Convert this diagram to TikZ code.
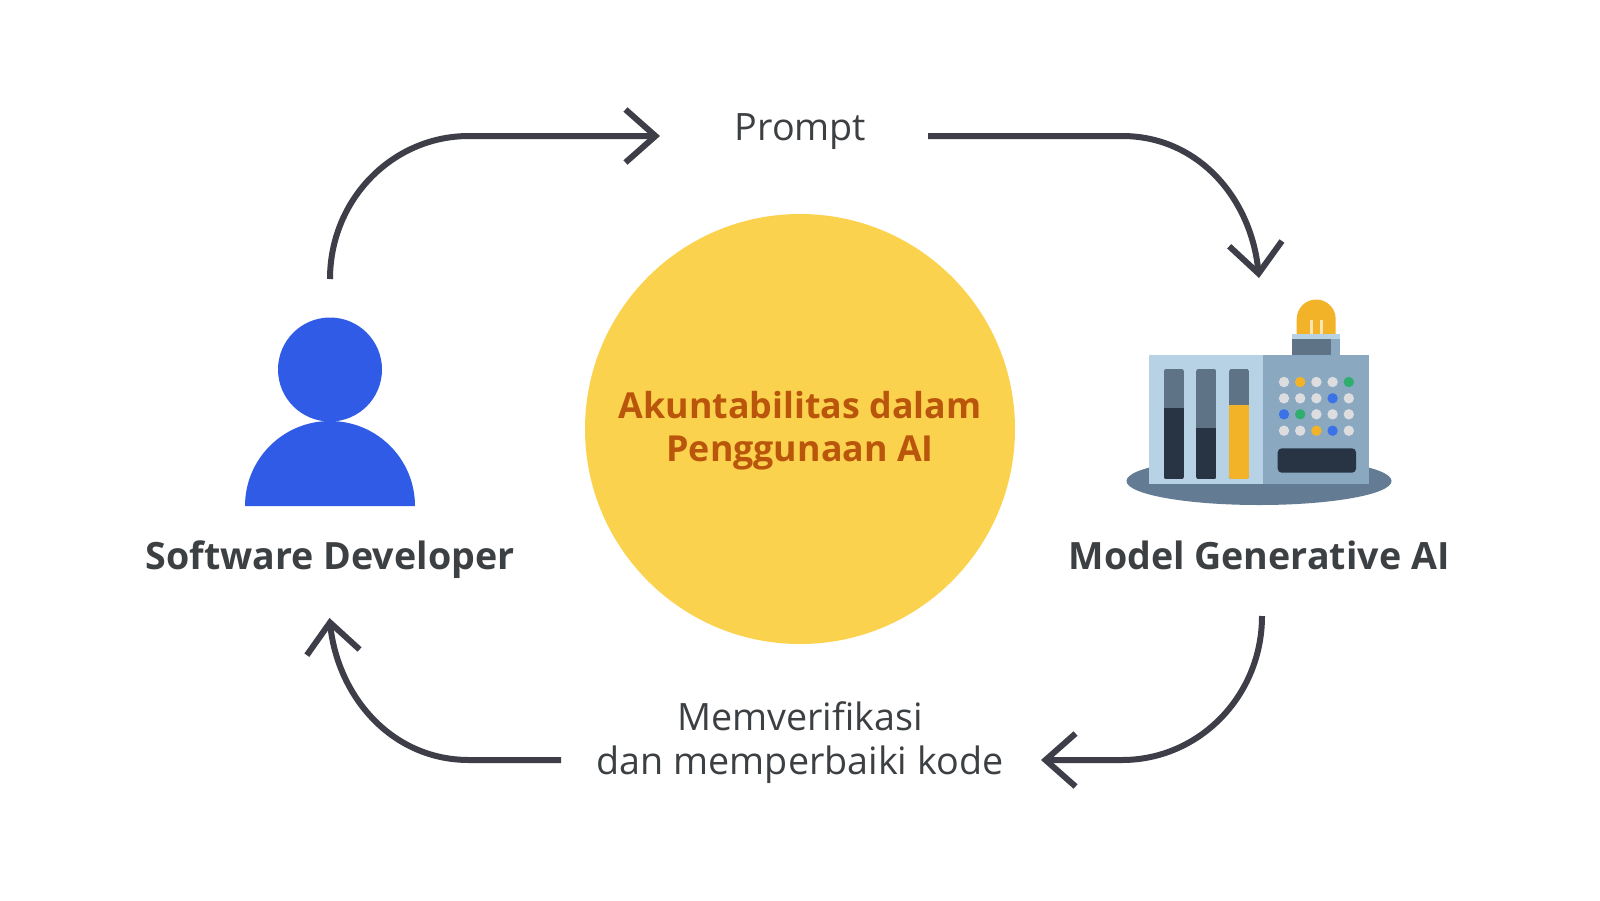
\documentclass[tikz,border=0pt]{standalone}
\usepackage{fontspec}
\setmainfont{Open Sans}
\usetikzlibrary{arrows.meta}
\definecolor{ink}{HTML}{3C4043}
\definecolor{wire}{HTML}{3D3E47}
\definecolor{sun}{HTML}{FBD24E}
\definecolor{rust}{HTML}{B9560B}
\definecolor{royal}{HTML}{2F5BE7}
\definecolor{disk}{HTML}{637C94}
\definecolor{pale}{HTML}{B8D2E5}
\definecolor{steel}{HTML}{8AA9C1}
\definecolor{slate}{HTML}{5E7386}
\definecolor{night}{HTML}{283444}
\definecolor{amber}{HTML}{F2B328}
\definecolor{dotg}{HTML}{DDDDE0}
\definecolor{dotb}{HTML}{3B72E8}
\definecolor{dotv}{HTML}{2FAE6F}
\tikzset{
  flow/.style={draw=wire,line width=6pt,-{Straight Barb[length=30pt,width=53pt]}},
  plainlabel/.style={text=ink,font=\fontsize{37.7}{44}\selectfont,align=center,inner sep=0pt},
  boldlabel/.style={text=ink,font=\fontsize{37.6}{44}\selectfont\bfseries,align=center,inner sep=0pt},
  corelabel/.style={text=rust,font=\fontsize{35.8}{43.5}\selectfont\bfseries,align=center,inner sep=0pt},
  bar/.style={rounded corners=3pt},
  lit/.style={circle,minimum size=10.4pt,inner sep=0pt},
}
\begin{document}
\begin{tikzpicture}[x=1pt,y=-1pt]
\useasboundingbox (0,0) rectangle (1600,900);
\fill[white] (0,0) rectangle (1600,900);

% centre
\node[circle,fill=sun,minimum size=430pt,inner sep=0pt] (core) at (800,429) {};
\node[corelabel] (coretext) at (800,430.5) {Akuntabilitas dalam\\Penggunaan AI};

% person
\fill[royal] (245,506) arc[start angle=180,end angle=0,x radius=85pt,y radius=85pt] -- cycle;
\node[circle,fill=royal,minimum size=104pt,inner sep=0pt] (head) at (330,369.5) {};
\node[boldlabel,anchor=base] (dev) at (330,569) {Software Developer};

% machine
\fill[disk] (1259,481) ellipse[x radius=132.5pt,y radius=24pt];
\fill[pale] (1149.3,354.7) rectangle (1263.3,483.7);
\fill[steel] (1263.3,354.7) rectangle (1369.3,483.7);
% lamp
\fill[amber] (1296.7,334.3) -- (1296.7,319) arc[start angle=180,end angle=0,x radius=19.5pt,y radius=19.5pt] -- (1335.7,334.3) -- cycle;
\fill[amber!35!white] (1310,320) rectangle (1312.7,334.3);
\fill[amber!35!white] (1320,320) rectangle (1322.7,334.3);
\fill[pale] (1292,334.3) rectangle (1340.3,339);
\fill[slate] (1292,339) rectangle (1331.3,354.7);
\fill[steel] (1331.3,339) rectangle (1340.3,354.7);
% bars
\foreach \xa/\ya/\c in {1163.7/407.7/night,1196/428/night,1229/405.3/amber}{
  \begin{scope}
    \clip[bar] (\xa,368.7) rectangle ++(20.3,110.6);
    \fill[slate] (\xa,368.7) rectangle ++(20.3,110.6);
    \fill[\c] (\xa,\ya) rectangle (\xa+20.3,479.3);
  \end{scope}
}
\fill[night,rounded corners=4pt] (1277.7,448.3) rectangle (1356,472.7);
% dots
\foreach \cy/\row in {382/{dotg,amber,dotg,dotg,dotv},398.3/{dotg,dotg,dotg,dotb,dotg},414.3/{dotb,dotv,dotg,dotg,dotg},430.7/{dotg,dotg,amber,dotb,dotg}}{
  \foreach \c [count=\i from 0] in \row {
    \node[lit,fill=\c] (dot-\i-\cy) at ({1284+16.2*\i},\cy) {};
  }
}
\node[boldlabel,anchor=base] (model) at (1259,569) {Model Generative AI};

% step labels
\node[plainlabel,anchor=base] (prompt) at (800.5,140) {Prompt};
\node[plainlabel] (fix) at (800,743) {Memverifikasi\\dan memperbaiki kode};

% connector ends
\coordinate (a1) at (330,279);
\coordinate (a2) at (660,136);
\coordinate (b1) at (928,136);
\coordinate (b2) at (1259,278);
\coordinate (c1) at (1262,616);
\coordinate (c2) at (1041,760);
\coordinate (d1) at (561,760);
\coordinate (d2) at (329.5,618);

\draw[flow] (a1) .. controls (330,200) and (392,136) .. (469,136) -- (a2);
\draw[flow] (b1) -- (1122,136) .. controls (1198,136) and (1251,198) .. (b2);
\draw[flow] (c1) .. controls (1262,696) and (1199,760) .. (1122,760) -- (c2);
\draw[flow] (d1) -- (469,760) .. controls (392,760) and (338,697) .. (d2);
\end{tikzpicture}
\end{document}
